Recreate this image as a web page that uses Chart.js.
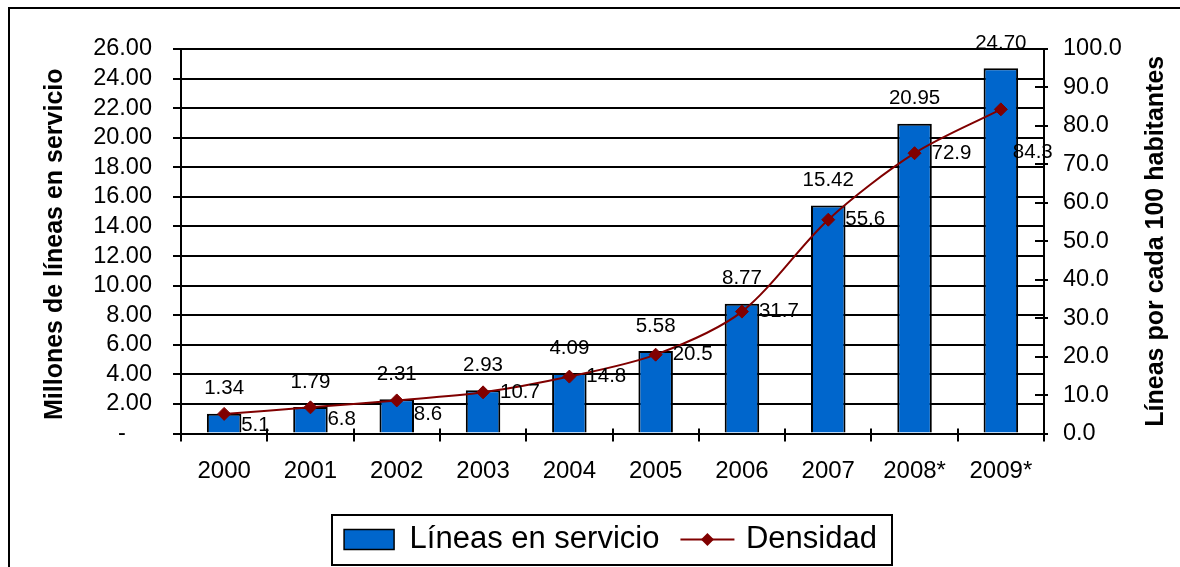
<!DOCTYPE html>
<html><head><meta charset="utf-8">
<script src="https://cdn.jsdelivr.net/npm/chart.js@4.4.0/dist/chart.umd.min.js"></script>
<style>html,body{margin:0;padding:0;background:#fff;overflow:hidden}canvas{display:block}</style>
</head><body>
<canvas id="c" width="1180" height="567"></canvas>
<script>
const categories = ['2000','2001','2002','2003','2004','2005','2006','2007','2008*','2009*'];
const lineasEnServicio = [1.34, 1.79, 2.31, 2.93, 4.09, 5.58, 8.77, 15.42, 20.95, 24.70];
const densidad = [5.1, 6.8, 8.6, 10.7, 14.8, 20.5, 31.7, 55.6, 72.9, 84.3];
const leftAxisTitle = 'Millones de líneas en servicio';
const rightAxisTitle = 'Líneas por cada 100 habitantes';
const seriesNames = ['Líneas en servicio', 'Densidad'];

const FONT = '"Liberation Sans", Arial, sans-serif';
// label offsets (style) for the density labels: [dx, dy]
const densLabelOffsets = [[17,11],[17,12],[17,14],[17,0],[17,0],[17,0],[17,0],[17,0],[17,0],[12,43]];

Chart.defaults.font.family = FONT;
Chart.defaults.color = '#000';

const decor = {
  id: 'decor',
  beforeDraw(chart) {
    const ctx = chart.ctx;
    ctx.save(); ctx.fillStyle = '#fff'; ctx.fillRect(0, 0, chart.width, chart.height); ctx.restore();
  },
  afterDraw(chart) {
    const ctx = chart.ctx, ca = chart.chartArea;
    ctx.save();
    // outer frame
    ctx.strokeStyle = '#000'; ctx.lineWidth = 2;
    ctx.strokeRect(9, 8, 1400, 800);
    // inner parts of x tick marks
    const xs = chart.scales.x;
    ctx.lineWidth = 2;
    for (let i = 0; i <= categories.length; i++) {
      const px = Math.round(xs.getPixelForValue(i - 0.5));
      ctx.beginPath(); ctx.moveTo(px, ca.bottom - 5); ctx.lineTo(px, ca.bottom); ctx.stroke();
    }
    // inner parts of right tick marks
    const yr = chart.scales.y1;
    yr.ticks.forEach(t => {
      const py = Math.round(yr.getPixelForValue(t.value));
      ctx.beginPath(); ctx.moveTo(ca.right - 9, py); ctx.lineTo(ca.right, py); ctx.stroke();
    });
    // axis titles
    ctx.fillStyle = '#000';
    ctx.font = 'bold 25px ' + FONT;
    ctx.textAlign = 'center'; ctx.textBaseline = 'middle';
    ctx.save(); ctx.translate(55, (ca.top + ca.bottom) / 2 + 3); ctx.rotate(-Math.PI / 2);
    ctx.fillText(leftAxisTitle, 0, 0); ctx.restore();
    ctx.save(); ctx.translate(1156, (ca.top + ca.bottom) / 2); ctx.rotate(-Math.PI / 2);
    ctx.fillText(rightAxisTitle, 0, 0); ctx.restore();
    // data labels
    ctx.font = '20.5px ' + FONT;
    const mb = chart.getDatasetMeta(0);
    mb.data.forEach((el, i) => {
      ctx.textAlign = 'center';
      ctx.fillText(lineasEnServicio[i].toFixed(2), el.x, el.y - 25);
    });
    const ml = chart.getDatasetMeta(1);
    ml.data.forEach((el, i) => {
      ctx.textAlign = 'left';
      const o = densLabelOffsets[i];
      ctx.fillText(densidad[i].toFixed(1), el.x + o[0], el.y + o[1]);
    });
    // legend frame + line symbol
    const hb = chart.legend.legendHitBoxes;
    if (hb && hb.length === 2) {
      const cy = hb[0].top + hb[0].height / 2;
      ctx.lineWidth = 2; ctx.strokeStyle = '#000';
      const l = hb[0].left - 12, r = hb[1].left + hb[1].width + 15;
      ctx.strokeRect(Math.round(l), Math.round(cy - 25), Math.round(r - l), 50);
      const x0 = hb[1].left, x1 = hb[1].left + 54, xc = (x0 + x1) / 2;
      ctx.strokeStyle = '#800000'; ctx.lineWidth = 2;
      ctx.beginPath(); ctx.moveTo(x0, cy); ctx.lineTo(x1, cy); ctx.stroke();
      ctx.fillStyle = '#800000';
      ctx.beginPath(); ctx.moveTo(xc, cy - 6.5); ctx.lineTo(xc + 6.5, cy); ctx.lineTo(xc, cy + 6.5); ctx.lineTo(xc - 6.5, cy); ctx.closePath(); ctx.fill();
    }
    ctx.restore();
  }
};

new Chart(document.getElementById('c'), {
  data: {
    labels: categories,
    datasets: [
      { type: 'bar', label: seriesNames[0], data: lineasEnServicio, yAxisID: 'y', order: 2,
        backgroundColor: '#0066CC', borderColor: '#000', borderWidth: 2,
        barPercentage: 0.4, categoryPercentage: 1 },
      { type: 'line', label: seriesNames[1], data: densidad, yAxisID: 'y1', order: 1,
        borderColor: '#800000', borderWidth: 2, tension: 0.3,
        pointStyle: 'rectRot', pointRadius: 6.5, pointBackgroundColor: '#800000', pointBorderColor: '#800000', pointBorderWidth: 1 }
    ]
  },
  options: {
    responsive: false, animation: false, devicePixelRatio: 1,
    layout: { padding: { left: 41, right: 0, top: 49, bottom: 2 } },
    plugins: {
      tooltip: { enabled: false },
      legend: {
        position: 'bottom',
        labels: {
          padding: 21, boxWidth: 50, boxHeight: 20, color: '#000',
          font: { size: 31, family: FONT },
          sort: (a, b) => a.datasetIndex - b.datasetIndex,
          generateLabels(chart) {
            return [
              { text: seriesNames[0], fillStyle: '#0066CC', strokeStyle: '#000', lineWidth: 1.5, datasetIndex: 0, hidden: false },
              { text: seriesNames[1], fillStyle: 'rgba(0,0,0,0)', strokeStyle: 'rgba(0,0,0,0)', lineWidth: 0, datasetIndex: 1, hidden: false }
            ];
          }
        }
      }
    },
    scales: {
      x: {
        offset: true,
        grid: { offset: true, drawOnChartArea: false, tickLength: 8, color: '#000', lineWidth: 2 },
        border: { color: '#000', width: 2 },
        ticks: { padding: 15, color: '#000', font: { size: 24 }, maxRotation: 0, autoSkip: false },
        afterFit(s) { s.height = 69.5; }
      },
      y: {
        position: 'left', min: 0, max: 26,
        grid: { color: '#000', lineWidth: 2, tickLength: 8 },
        border: { color: '#000', width: 2 },
        ticks: { stepSize: 2, padding: 21, color: '#000', font: { size: 23.5 }, autoSkip: false,
          callback: v => v === 0 ? '-\u2007\u2007' : v.toFixed(2) },
        afterFit(s) { s.width = 140; }
      },
      y1: {
        position: 'right', min: 0, max: 100,
        grid: { drawOnChartArea: false, color: '#000', lineWidth: 2, tickLength: 4 },
        border: { color: '#000', width: 2 },
        ticks: { stepSize: 10, padding: 15, color: '#000', font: { size: 23.5 }, autoSkip: false,
          callback: v => v.toFixed(1) },
        afterFit(s) { s.width = 136; }
      }
    }
  },
  plugins: [decor]
});
</script>
</body></html>
